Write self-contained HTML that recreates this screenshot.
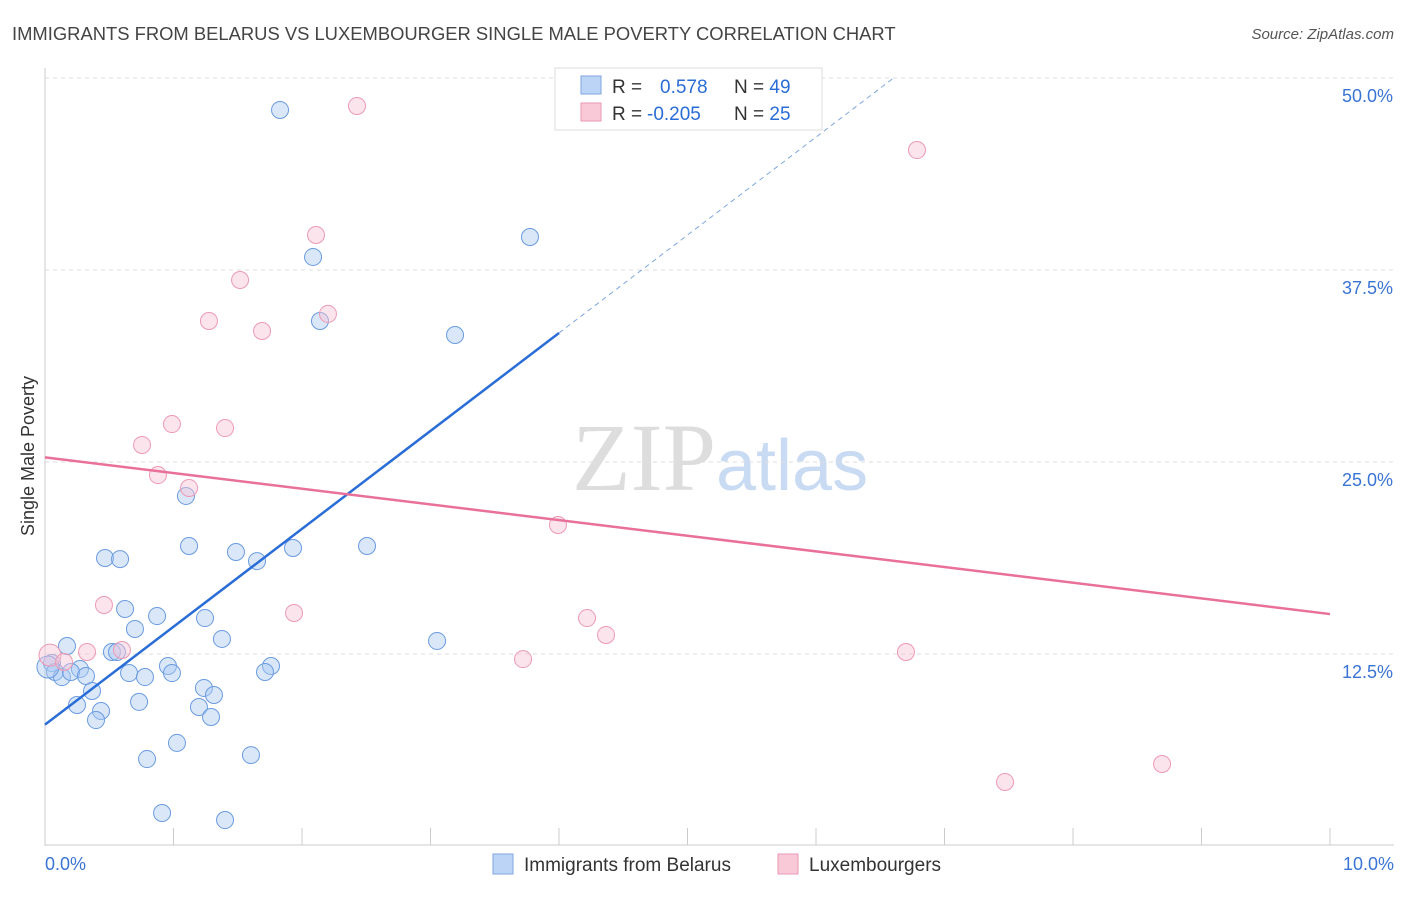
<!DOCTYPE html>
<html><head><meta charset="utf-8"><style>
body{margin:0;background:#fff;font-family:"Liberation Sans",sans-serif}
</style></head><body>
<svg id="c" width="1406" height="892" xmlns="http://www.w3.org/2000/svg">
<text x="12" y="40" font-size="18.4" fill="#444">IMMIGRANTS FROM BELARUS VS LUXEMBOURGER SINGLE MALE POVERTY CORRELATION CHART</text>
<text x="1394" y="39" font-size="15" fill="#555" font-style="italic" text-anchor="end">Source: ZipAtlas.com</text>
<text x="716" y="490" font-size="96" fill="#ddd" text-anchor="end" font-family="Liberation Serif">ZIP</text>
<text x="716" y="490" font-size="72" fill="#c9daf3">atlas</text>
<text transform="translate(34,456) rotate(-90)" font-size="18" fill="#333" text-anchor="middle">Single Male Poverty</text>
<g id="grid"></g><g id="marks"></g>
<g>
<rect x="555" y="68" width="267" height="62" fill="#fff" stroke="#ddd"/>
<rect x="581" y="76" width="20" height="18" fill="#bcd4f5" stroke="#7ea6e0"/>
<rect x="581" y="103" width="20" height="18" fill="#f9c9d7" stroke="#ea9ab3"/>
<text x="612" y="93" font-size="19" fill="#333">R = <tspan fill="#2a6dd6" x="660">0.578</tspan><tspan x="734" fill="#333">N = </tspan><tspan fill="#2a6dd6">49</tspan></text>
<text x="612" y="120" font-size="19" fill="#333">R = <tspan fill="#2a6dd6" x="647">-0.205</tspan><tspan x="734" fill="#333">N = </tspan><tspan fill="#2a6dd6">25</tspan></text>
</g>
<g>
<rect x="493" y="854" width="20" height="20" fill="#bcd4f5" stroke="#7ea6e0"/>
<text x="524" y="871" font-size="19" fill="#333">Immigrants from Belarus</text>
<rect x="778" y="854" width="20" height="20" fill="#f9c9d7" stroke="#ea9ab3"/>
<text x="809" y="871" font-size="19" fill="#333">Luxembourgers</text>
</g>
<text x="45" y="870" font-size="18" fill="#3a74d4">0.0%</text>
<text x="1394" y="870" font-size="18" fill="#3a74d4" text-anchor="end">10.0%</text>
</svg>
<script>
const yTicks=[12.5,25,37.5,50];
const yTickLabels=["12.5%","25.0%","37.5%","50.0%"];
const bluePx=[[280,110],[313,257],[320,321],[530,237],[455,335],[186,496],[105,558],[120,559],[189,546],[236,552],[257,561],[293,548],[367,546],[125,609],[157,616],[205,618],[135,629],[222,639],[437,641],[67,646],[112,652],[117,652],[52,663],[168,666],[271,666],[265,672],[80,669],[55,672],[62,677],[71,672],[86,676],[129,673],[145,677],[172,673],[92,691],[204,688],[214,695],[77,705],[101,711],[139,702],[199,707],[211,717],[96,720],[177,743],[147,759],[251,755],[162,813],[225,820],[48,667]];
const pinkPx=[[357,106],[917,150],[316,235],[240,280],[209,321],[262,331],[328,314],[172,424],[225,428],[142,445],[158,475],[189,488],[558,525],[104,605],[294,613],[587,618],[606,635],[122,650],[87,652],[523,659],[906,652],[50,655],[64,662],[1005,782],[1162,764]];
const blueX=bluePx.map(p=>+((p[0]-45)/128.5).toFixed(3));
const blueY=bluePx.map(p=>+((846-p[1])/15.36).toFixed(2));
const pinkX=pinkPx.map(p=>+((p[0]-45)/128.5).toFixed(3));
const pinkY=pinkPx.map(p=>+((846-p[1])/15.36).toFixed(2));
const blueTrend=[0,7.9,4.0,33.4];const pinkTrend=[0,25.3,10,15.1];
const X=v=>45+v*128.5, Y=v=>846-v*15.36;
const NS="http://www.w3.org/2000/svg";
const g=document.getElementById('grid'),m=document.getElementById('marks');
function mk(tag,at,parent){const e=document.createElementNS(NS,tag);for(const k in at)e.setAttribute(k,at[k]);parent.appendChild(e);return e;}
let ax=mk('line',{x1:45,y1:68,x2:45,y2:846,stroke:'#ccc'},g);


let bx=mk('line',{x1:45,y1:845,x2:1394,y2:845,stroke:'#ccc'},g);


for(let i=0;i<=10;i++){let t=mk('line',{x1:X(i),y1:828,x2:X(i),y2:845,stroke:'#ccc'},g);

}
yTicks.forEach((v,i)=>{let l=mk('line',{x1:45,y1:Y(v),x2:1394,y2:Y(v),stroke:'#ddd','stroke-dasharray':'4 4'},g);


let t=mk('text',{x:1393,y:Y(v)+24,'font-size':18,fill:'#3a74d4','text-anchor':'end'},g);t.textContent=yTickLabels[i];

});
blueX.forEach((x,i)=>{let c=mk('circle',{cx:X(x),cy:Y(blueY[i]),r:i==48?11:8.5,fill:'rgba(170,202,242,0.45)',stroke:'#6b9be0','stroke-width':1},m);

});
pinkX.forEach((x,i)=>{let c=mk('circle',{cx:X(x),cy:Y(pinkY[i]),r:i==21?11:8.5,fill:'rgba(248,195,212,0.45)',stroke:'#ec9ab5','stroke-width':1},m);

});
const bs=(blueTrend[3]-blueTrend[1])/(blueTrend[2]-blueTrend[0]);
let bl=mk('line',{x1:X(0),y1:Y(blueTrend[1]),x2:X(blueTrend[2]),y2:Y(blueTrend[3]),stroke:'#2a6dd6','stroke-width':2.5},m);


let xe=(50-blueTrend[1])/bs;
let bd=mk('line',{x1:X(blueTrend[2]),y1:Y(blueTrend[3]),x2:X(xe),y2:Y(50),stroke:'#7ea6e0','stroke-width':1,'stroke-dasharray':'5 4'},m);


let pl=mk('line',{x1:X(0),y1:Y(pinkTrend[1]),x2:X(pinkTrend[2]),y2:Y(pinkTrend[3]),stroke:'#e8709a','stroke-width':2.5},m);


</script>
</body></html>
